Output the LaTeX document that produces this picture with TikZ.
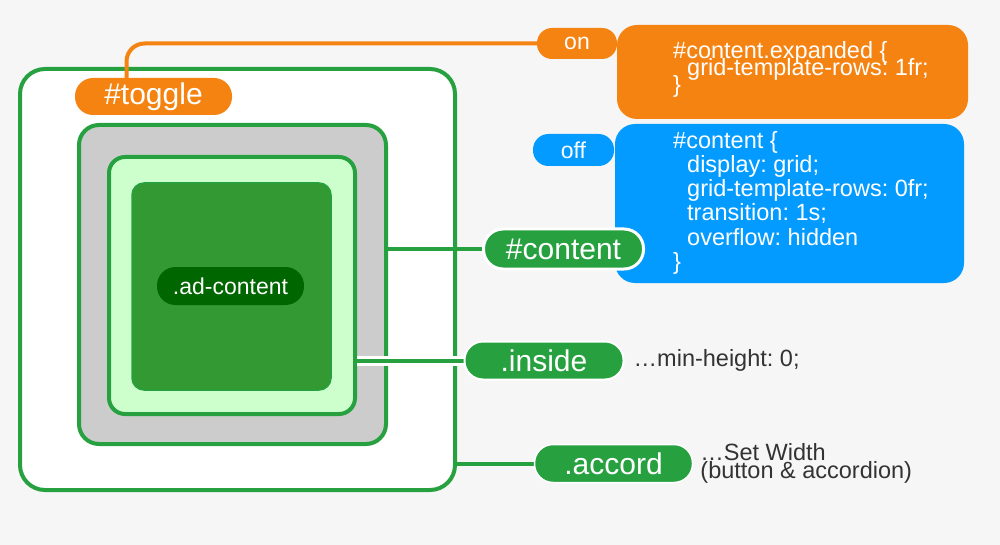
\documentclass[tikz,border=0pt]{standalone}
\usepackage{fontspec}
\setmainfont{Liberation Sans}
\usepackage{xcolor}
\usepackage{tikz}
\usetikzlibrary{positioning}
\definecolor{pagebg}{RGB}{246,246,246}
\definecolor{accgreen}{RGB}{39,161,64}
\definecolor{toggleorange}{RGB}{245,131,18}
\definecolor{offblue}{RGB}{3,155,255}
\definecolor{contentgray}{RGB}{204,204,204}
\definecolor{insidegreen}{RGB}{204,255,204}
\definecolor{adgreen}{RGB}{51,153,51}
\definecolor{adpillgreen}{RGB}{0,102,0}
\definecolor{notegray}{RGB}{51,51,51}
\newcommand{\codeind}{\hspace*{14pt}}
\pgfdeclarelayer{boxes}
\pgfdeclarelayer{wires}
\pgfsetlayers{boxes,wires,main}
\frenchspacing

\begin{document}
\begin{tikzpicture}[
  x=1pt, y=-1pt,
  every node/.style={inner sep=0pt},
  frame/.style={draw=accgreen, line width=4pt},
  pill/.style={text=white, font=\fontsize{30}{30}\selectfont},
  smallpill/.style={text=white, font=\fontsize{23}{23}\selectfont},
  codebox/.style={rounded corners=20pt, minimum width=#1},
  codetext/.style={text=white, anchor=base west, font=\fontsize{23.5}{23.5}\selectfont},
  note/.style={text=notegray, font=\fontsize{23.5}{17}\selectfont},
  wire/.style={line width=4pt}
]
\begin{pgfonlayer}{boxes}
\fill[pagebg] (0,0) rectangle (1000,545);
\node[frame, fill=white, rounded corners=25pt, minimum width=435pt, minimum height=421pt] (accordbox) at (237.5,279.5) {};
\node[frame, fill=contentgray, rounded corners=20pt, minimum width=307pt, minimum height=319pt] (contentbox) at (232.5,284.5) {};
\node[frame, fill=insidegreen, rounded corners=16pt, minimum width=246pt, minimum height=257pt] (insidebox) at (232,285.5) {};
\node[fill=adgreen, draw=accgreen, line width=1.5pt, rounded corners=12pt, minimum width=199pt, minimum height=207pt] (adbox) at (231.5,286.5) {};
\end{pgfonlayer}

% pills
\node[pill, fill=toggleorange, rounded corners=18pt, minimum width=157pt, minimum height=37pt] (togglepill) at (153.5,96.5) {\#toggle};
\node[smallpill, fill=adpillgreen, rounded corners=18.5pt, minimum width=147pt, minimum height=38pt] (adpill) at (230.5,286) {.ad-content};

% code boxes
\node[codebox=351pt, fill=toggleorange, minimum height=94pt] (oncode) at (792.5,72) {};
\node[codebox=349pt, fill=offblue, minimum height=159pt] (offcode) at (789.5,203.5) {};
\foreach \y/\txt [count=\i] in {59/{\#content.expanded \{}, 76/{\codeind grid-template-rows: 1fr;}, 93/{\}}}
  \node[codetext] (online\i) at (673,\y) {\txt};
\foreach \y/\txt [count=\i] in {149/{\#content \{}, 173/{\codeind display: grid;}, 197/{\codeind grid-template-rows: 0fr;}, 221/{\codeind transition: 1s;}, 245/{\codeind overflow: hidden}, 269/{\}}}
  \node[codetext] (offline\i) at (673,\y) {\txt};

\node[smallpill, fill=toggleorange, rounded corners=15pt, minimum width=80pt, minimum height=31pt] (onpill) at (577,43.5) {on};
\node[smallpill, fill=offblue, rounded corners=15.5pt, minimum width=81pt, minimum height=32pt] (offpill) at (573.5,150) {off};

\node[pill, fill=accgreen, draw=white, line width=3pt, rounded corners=19.5pt, minimum width=160pt, minimum height=40pt] (contentpill) at (563.5,249) {\#content};
\node[pill, fill=accgreen, draw=white, line width=2pt, rounded corners=18.5pt, minimum width=159pt, minimum height=38pt] (insidepill) at (544,360.5) {.inside};
\node[pill, fill=accgreen, draw=white, line width=1.5pt, rounded corners=18.5pt, minimum width=158pt, minimum height=38pt] (accordpill) at (613.5,463.5) {.accord};

% notes
\node[note, right=9pt of insidepill] (insidenote) {…min-height: 0;};
\node[note, align=left, right=7pt of accordpill] (accordnote) {…Set Width\\(button \& accordion)};

% connectors
\begin{pgfonlayer}{wires}
\draw[wire, toggleorange, rounded corners=18pt] ([xshift=-27pt,yshift=-3pt]togglepill.north) |- (onpill.west);
\draw[wire, accgreen] (contentpill -| contentbox.east) -- (contentpill.west);
\draw[line width=10pt, white] (insidepill -| insidebox.east) -- (insidepill.west);
\draw[wire, accgreen] (insidepill -| insidebox.east) -- (insidepill.west);
\draw[wire, accgreen] (accordpill -| accordbox.east) -- (accordpill.west);
\end{pgfonlayer}
\end{tikzpicture}
\end{document}
